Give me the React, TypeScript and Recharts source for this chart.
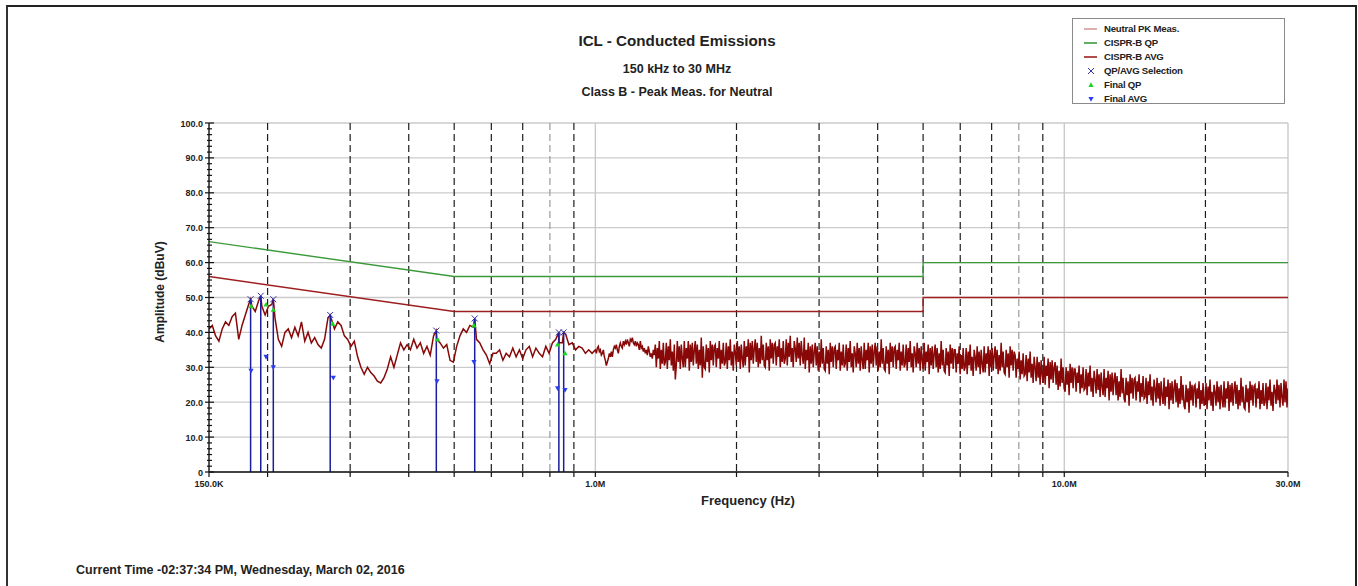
import React from 'react';
import { ComposedChart, Line, Scatter, XAxis, YAxis, CartesianGrid } from 'recharts';

// sweep limits (Hz)
const SWEEP_START = 150e3;
const SWEEP_SPLIT = 1e6;
const SWEEP_STOP = 30e6;

// Neutral PK trace, 150 kHz .. 1 MHz (dBuV)
const pkLow = [
  41, 42, 39, 37.5, 41, 43, 42, 44.5, 45.5, 38, 42, 45, 48, 47.5, 46, 49, 47.5, 45, 47.5, 48,
  44, 38, 36, 40, 41, 38.5, 41.5, 39, 43, 37.5, 40, 37, 38.5, 36.5, 35.5, 38, 44, 44, 41, 43,
  42, 39, 38, 36, 37.5, 33, 30, 28, 30, 28.5, 27.5, 26, 25.5, 27, 29.5, 33, 30, 33.5, 37, 35,
  36.5, 35, 38, 35.5, 37, 34, 36, 33.5, 39, 38, 37, 35.5, 36.5, 32, 31.5, 36, 39, 41, 40, 42,
  41.5, 38, 37, 35, 33.5, 31, 34, 34, 35, 32, 34, 33, 35.5, 33, 35, 32.5, 35, 36, 33, 35.5,
  34, 33, 36, 34, 37, 38, 37, 37, 39.5, 36.5, 37, 35, 36, 35.5, 34, 35, 34,
];

// Neutral PK trace, 1 MHz .. 30 MHz (dBuV), dense noisy part
const pkHigh = [
  35, 34, 35.5, 36, 34.5, 35, 33.5, 34, 35, 33,
  32, 30.5, 31.5, 32.5, 34, 33, 34.5, 33, 35, 36,
  35.5, 36.5, 35, 34, 36, 37, 36, 35.5, 37.5, 36.5,
  37.5, 36.5, 38, 37, 36, 38, 37.5, 38.5, 37, 36.5,
  37.5, 36, 37, 36.5, 35, 37.5, 35.5, 36, 34.5, 35.5,
  34, 35, 33.5, 36, 34.5, 33, 34, 32.5, 35, 33.5,
  36.5, 30, 35.5, 32.5, 37.5, 29.5, 35, 31, 37, 30.5,
  31.5, 37, 29.5, 36, 32, 38, 30.5, 34.5, 29, 36.5,
  26.5, 30.5, 37.5, 31.5, 36, 29.5, 36.5, 32.5, 30, 37.5,
  30, 35.5, 32.5, 37.5, 29, 36.5, 31.5, 37, 30.5, 35,
  37.5, 31, 36.5, 29.5, 35, 30.5, 38.5, 27, 36, 30,
  29.5, 36.5, 31.5, 35.5, 28.5, 37.5, 32, 36.5, 30.5, 36,
  36.5, 30, 35.5, 32.5, 37.5, 29.5, 35, 31, 37, 30.5,
  31.5, 37, 29.5, 36, 32, 38, 30.5, 34.5, 29, 36.5,
  34.5, 30.5, 37.5, 31.5, 36, 29.5, 36.5, 32.5, 30, 37.5,
  30.5, 36, 33, 38, 28.5, 37, 32, 37.5, 31, 35.5,
  38, 31.5, 37, 30, 35.5, 31, 39, 32, 36.5, 30.5,
  30, 37, 32, 36, 29, 38, 32.5, 37, 31, 36.5,
  37, 30.5, 36, 33, 38, 30, 35.5, 31.5, 37.5, 31,
  32.5, 38, 30.5, 37, 33, 39, 31.5, 35.5, 30, 37.5,
  35.5, 31.5, 38.5, 32.5, 37, 30.5, 37.5, 33.5, 31, 38.5,
  29.5, 35, 32, 37, 28.5, 36, 31, 36.5, 30, 34.5,
  37, 30.5, 36, 29, 34.5, 30, 38, 31, 35.5, 29.5,
  29, 36, 31, 35, 28, 37, 31.5, 36, 30, 35.5,
  36, 29.5, 35, 32, 37, 29, 34.5, 30.5, 36.5, 30,
  31, 36.5, 29, 35.5, 31.5, 37.5, 30, 34, 28.5, 36,
  34, 30, 37, 31, 35.5, 29, 36, 32, 29.5, 37,
  29.5, 35, 32, 37, 28.5, 36, 31, 36.5, 30, 34.5,
  37, 30.5, 36, 29, 34.5, 30, 38, 31, 35.5, 29.5,
  29, 36, 31, 35, 28, 37, 31.5, 36, 30, 35.5,
  36, 29.5, 35, 32, 37, 29, 34.5, 30.5, 36.5, 30,
  31, 36.5, 29, 35.5, 31.5, 37.5, 30, 34, 28.5, 36,
  34, 30, 37, 31, 35.5, 29, 36, 32, 29.5, 37,
  29, 34.5, 31.5, 36.5, 28, 35.5, 30.5, 36, 29.5, 34,
  36.5, 30, 35.5, 28.5, 34, 29.5, 37.5, 30.5, 35, 29,
  28.5, 35.5, 30.5, 34.5, 27.5, 36.5, 31, 35.5, 29.5, 35,
  35, 28.5, 34, 31, 36, 28, 33.5, 29.5, 35.5, 29,
  30, 35.5, 28, 34.5, 30.5, 36.5, 29, 33, 27.5, 35,
  33, 29, 36, 30, 34.5, 28, 35, 31, 28.5, 36,
  28.5, 34, 31, 36, 27.5, 35, 30, 35.5, 29, 33.5,
  36, 29.5, 35, 28, 33.5, 29, 37, 30, 34.5, 28.5,
  28, 35, 30, 34, 27, 36, 30.5, 35, 29, 34.5,
  33.5, 27, 32.5, 29.5, 34.5, 26.5, 32, 28, 34, 27.5,
  28, 33.5, 26, 32.5, 28.5, 34.5, 27, 31, 25.5, 33,
  30, 26, 33, 27, 31.5, 25, 32, 28, 25.5, 33,
  25, 30.5, 27.5, 32.5, 24, 31.5, 26.5, 32, 25.5, 30,
  31.5, 25, 30.5, 23.5, 29, 24.5, 32.5, 25.5, 30, 24,
  23, 30, 25, 29, 22, 31, 25.5, 30, 24, 29.5,
  29.5, 23, 28.5, 25.5, 30.5, 22.5, 28, 24, 30, 23.5,
  24, 29.5, 22, 28.5, 24.5, 30.5, 23, 27, 21.5, 29,
  26.5, 22.5, 29.5, 23.5, 28, 21.5, 28.5, 24.5, 22, 29.5,
  21.5, 27, 24, 29, 20.5, 28, 23, 28.5, 22, 26.5,
  28.5, 22, 27.5, 20.5, 26, 21.5, 29.5, 22.5, 27, 21,
  20, 27, 22, 26, 19, 28, 22.5, 27, 21, 26.5,
  27, 20.5, 26, 23, 28, 20, 25.5, 21.5, 27.5, 21,
  21.5, 27, 19.5, 26, 22, 28, 20.5, 24.5, 19, 26.5,
  24, 20, 27, 21, 25.5, 19, 26, 22, 19.5, 27,
  19, 24.5, 21.5, 26.5, 18, 25.5, 20.5, 26, 19.5, 24,
  26.5, 20, 25.5, 18.5, 24, 19.5, 27.5, 20.5, 25, 19,
  18, 25, 20, 24, 17, 26, 20.5, 25, 19, 24.5,
  25, 18.5, 24, 21, 26, 18, 23.5, 19.5, 25.5, 19,
  20, 25.5, 18, 24.5, 20.5, 26.5, 19, 23, 17.5, 25,
  23, 19, 26, 20, 24.5, 18, 25, 21, 18.5, 26,
  18.5, 24, 21, 26, 17.5, 25, 20, 25.5, 19, 23.5,
  26, 19.5, 25, 18, 23.5, 19, 27, 20, 24.5, 18.5,
  18, 25, 20, 24, 17, 26, 20.5, 25, 19, 24.5,
  25, 18.5, 24, 21, 26, 18, 23.5, 19.5, 25.5, 19,
  20, 25.5, 18, 24.5, 20.5, 26.5, 19, 23, 17.5, 25,
  23.5, 19.5, 26.5, 20.5, 25, 18.5, 25.5, 21.5, 19, 26.5,
  20, 26, 18.5, 24,
];

// QP/AVG selections (kHz, dBuV)
const selFreqKHz = [184, 193.4, 205.7, 272, 458, 553, 836, 856];
const selPeak = [49.5, 50.5, 49.5, 45, 40.5, 44, 40, 40];

// final QP and AVG results
const qpFreqKHz = [184.4, 198.5, 205.7, 275.4, 461, 551, 831, 861.5];
const qpVal = [47.5, 48, 46.5, 42.5, 38, 42, 36.5, 34];
const avgFreqKHz = [184.4, 198.5, 205.7, 276.2, 459.5, 551, 831, 861.5];
const avgVal = [29, 33, 30, 27, 26, 31.5, 24, 23.5];

// CISPR 22 class B limits
const limitFreq = [150e3, 500e3, 5e6, 5e6, 30e6];
const qpLimit = [66, 56, 56, 60, 60];
const avgLimit = [56, 46, 46, 50, 50];

// axes
const yMajor = [0, 10, 20, 30, 40, 50, 60, 70, 80, 90, 100];
const xLabelFreqs = [150e3, 1e6, 10e6, 30e6];
const xLabels = ['150.0K', '1.0M', '10.0M', '30.0M'];
const dashFreqs = [200e3, 300e3, 400e3, 500e3, 600e3, 700e3, 900e3, 2e6, 3e6, 4e6, 5e6, 6e6, 7e6, 9e6, 20e6];
const faintDashFreqs = [800e3, 8e6];
const solidFreqs = [1e6, 10e6, 30e6];

const legendItems = [
  { name: 'Neutral PK Meas.', kind: 'line', color: '#d49a9a' },
  { name: 'CISPR-B QP', kind: 'line', color: '#3a9a3a' },
  { name: 'CISPR-B AVG', kind: 'line', color: '#9e1f1f' },
  { name: 'QP/AVG Selection', kind: 'x', color: '#3030a8' },
  { name: 'Final QP', kind: 'up', color: '#1ed61e' },
  { name: 'Final AVG', kind: 'down', color: '#2a3cf0' },
];

const lowPts = pkLow.map((v, i) => ({ f: SWEEP_START * Math.pow(SWEEP_SPLIT / SWEEP_START, i / pkLow.length), v }));
const highPts = pkHigh.map((v, i) => ({ f: SWEEP_SPLIT * Math.pow(SWEEP_STOP / SWEEP_SPLIT, i / (pkHigh.length - 1)), v }));
const selPts = selFreqKHz.map((k, i) => ({ f: k * 1e3, v: selPeak[i] }));
const pkData = [...lowPts, ...highPts, ...selPts].sort((a, b) => a.f - b.f);

const stemData = selPts.flatMap((p) => [{ f: p.f, v: 0 }, { f: p.f, v: p.v }, { f: p.f, v: null }]);
const qpData = qpFreqKHz.map((k, i) => ({ f: k * 1e3, v: qpVal[i] }));
const avgData = avgFreqKHz.map((k, i) => ({ f: k * 1e3, v: avgVal[i] }));
const qpLimitData = limitFreq.map((f, i) => ({ f, v: qpLimit[i] }));
const avgLimitData = limitFreq.map((f, i) => ({ f, v: avgLimit[i] }));

const yMinor: number[] = [];
for (let i = 0; i <= 60; i++) if (i % 6 !== 0) yMinor.push((i * 10) / 6);
const yTicks = [...yMajor, ...yMinor].sort((a, b) => a - b);
const xTicks = [...xLabelFreqs, ...dashFreqs, ...faintDashFreqs].sort((a, b) => a - b);

const FONT = '"Liberation Sans", Arial, sans-serif';

const YTick = ({ x, y, payload }: any) => {
  const v = payload.value;
  const major = yMajor.includes(v);
  return (
    <g>
      <line x1={major ? x - 4 : x - 2} x2={major ? x + 5 : x + 3} y1={y} y2={y} stroke="#111" strokeWidth={1.2} />
      {major && (
        <text x={x - 6} y={y + 3.5} textAnchor="end" fontSize={9} fontWeight={700} fill="#222" fontFamily={FONT}>
          {v === 0 ? '0' : v.toFixed(1)}
        </text>
      )}
    </g>
  );
};

const XTick = ({ x, y, payload }: any) => {
  const idx = xLabelFreqs.indexOf(payload.value);
  return (
    <g>
      <line x1={x} x2={x} y1={y} y2={y + 5} stroke="#111" strokeWidth={1.2} />
      {idx >= 0 && (
        <text x={x} y={y + 15} textAnchor="middle" fontSize={9} fontWeight={700} fill="#222" fontFamily={FONT}>
          {xLabels[idx]}
        </text>
      )}
    </g>
  );
};

const XMark = ({ cx, cy }: any) => (
  <g stroke="#3030a8" strokeWidth={1}>
    <line x1={cx - 3} y1={cy - 3} x2={cx + 3} y2={cy + 3} />
    <line x1={cx - 3} y1={cy + 3} x2={cx + 3} y2={cy - 3} />
  </g>
);
const UpMark = ({ cx, cy }: any) => (
  <polygon points={`${cx},${cy - 2.8} ${cx - 2.6},${cy + 2} ${cx + 2.6},${cy + 2}`} fill="#1ed61e" />
);
const DownMark = ({ cx, cy }: any) => (
  <polygon points={`${cx - 2.6},${cy - 2} ${cx + 2.6},${cy - 2} ${cx},${cy + 2.8}`} fill="#2a3cf0" />
);

const Swatch = ({ kind, color }: { kind: string; color: string }) => (
  <svg width={14} height={10} style={{ position: 'absolute', left: 11, top: 1 }}>
    {kind === 'line' && <line x1={0} x2={13} y1={5} y2={5} stroke={color} strokeWidth={1.6} />}
    {kind === 'x' && <XMark cx={7} cy={5} />}
    {kind === 'up' && <UpMark cx={7} cy={5} />}
    {kind === 'down' && <DownMark cx={7} cy={5} />}
  </svg>
);

const abs = (left: number, top: number, size: number, extra: React.CSSProperties = {}): React.CSSProperties => ({
  position: 'absolute',
  left,
  top,
  fontSize: size,
  lineHeight: `${size}px`,
  fontWeight: 700,
  color: '#222',
  whiteSpace: 'nowrap',
  ...extra,
});

export default function App() {
  return (
    <div style={{ position: 'absolute', left: 0, top: 0, width: 1358, height: 586, background: '#fff', fontFamily: FONT, overflow: 'hidden' }}>
      <div style={{ position: 'absolute', left: 6, top: 5, width: 1347, height: 600, borderTop: '2px solid #222', borderLeft: '2px solid #333', borderRight: '2px solid #222' }} />

      <div style={abs(677, 32.5, 15.2, { transform: 'translateX(-50%)' })}>ICL - Conducted Emissions</div>
      <div style={abs(677, 63, 12.5, { transform: 'translateX(-50%)' })}>150 kHz to 30 MHz</div>
      <div style={abs(677, 86, 12.5, { transform: 'translateX(-50%)' })}>Class B - Peak Meas. for Neutral</div>

      <ComposedChart
        width={1358}
        height={586}
        margin={{ top: 123, right: 70, bottom: 84, left: 149 }}
        style={{ position: 'absolute', left: 0, top: 0 }}
      >
        <CartesianGrid horizontal vertical={false} horizontalValues={yMajor} stroke="#cbcbcb" strokeWidth={1.3} />
        <CartesianGrid horizontal={false} vertical verticalValues={solidFreqs} stroke="#c6c6c6" strokeWidth={1.3} />
        <CartesianGrid horizontal={false} vertical verticalValues={faintDashFreqs} stroke="#9a9a9a" strokeWidth={1.2} strokeDasharray="7 4" />
        <CartesianGrid horizontal={false} vertical verticalValues={dashFreqs} stroke="#1e1e1e" strokeWidth={1.2} strokeDasharray="7 4" />
        <XAxis
          dataKey="f"
          type="number"
          scale="log"
          domain={[SWEEP_START, SWEEP_STOP]}
          allowDataOverflow
          ticks={xTicks}
          interval={0}
          tick={<XTick />}
          tickLine={false}
          tickSize={0}
          tickMargin={0}
          height={30}
          axisLine={{ stroke: '#111', strokeWidth: 1.6 }}
        />
        <YAxis
          dataKey="v"
          type="number"
          domain={[0, 100]}
          allowDataOverflow
          ticks={yTicks}
          interval={0}
          tick={<YTick />}
          tickLine={false}
          tickSize={0}
          tickMargin={0}
          width={60}
          axisLine={{ stroke: '#111', strokeWidth: 1.4 }}
        />
        <Line data={qpLimitData} dataKey="v" stroke="#3a9a3a" strokeWidth={1.4} dot={false} type="linear" isAnimationActive={false} />
        <Line data={avgLimitData} dataKey="v" stroke="#9e1f1f" strokeWidth={1.4} dot={false} type="linear" isAnimationActive={false} />
        <Line data={pkData} dataKey="v" stroke="#880808" strokeWidth={1.5} dot={false} type="linear" isAnimationActive={false} />
        <Line data={stemData} dataKey="v" stroke="#1c1c9c" strokeWidth={1.5} dot={false} type="linear" connectNulls={false} isAnimationActive={false} />
        <Scatter data={selPts} dataKey="v" shape={<XMark />} isAnimationActive={false} />
        <Scatter data={qpData} dataKey="v" shape={<UpMark />} isAnimationActive={false} />
        <Scatter data={avgData} dataKey="v" shape={<DownMark />} isAnimationActive={false} />
      </ComposedChart>

      <div style={abs(160, 292, 12, { transform: 'translate(-50%, -50%) rotate(-90deg)' })}>Amplitude (dBuV)</div>
      <div style={abs(748, 494, 13, { transform: 'translateX(-50%)' })}>Frequency (Hz)</div>
      <div style={abs(76, 564, 12.5)}>Current Time -02:37:34 PM, Wednesday, March 02, 2016</div>

      <div style={{ position: 'absolute', left: 1072, top: 18, width: 211, height: 84, border: '1.5px solid #8a8a8a', background: '#fff', overflow: 'hidden' }}>
        {legendItems.map((it, i) => (
          <div key={it.name} style={{ position: 'absolute', left: 0, top: 4 + i * 14, height: 12, width: 205 }}>
            <Swatch kind={it.kind} color={it.color} />
            <span style={abs(31, 1, 9.6, { letterSpacing: -0.2 })}>{it.name}</span>
          </div>
        ))}
      </div>
    </div>
  );
}
